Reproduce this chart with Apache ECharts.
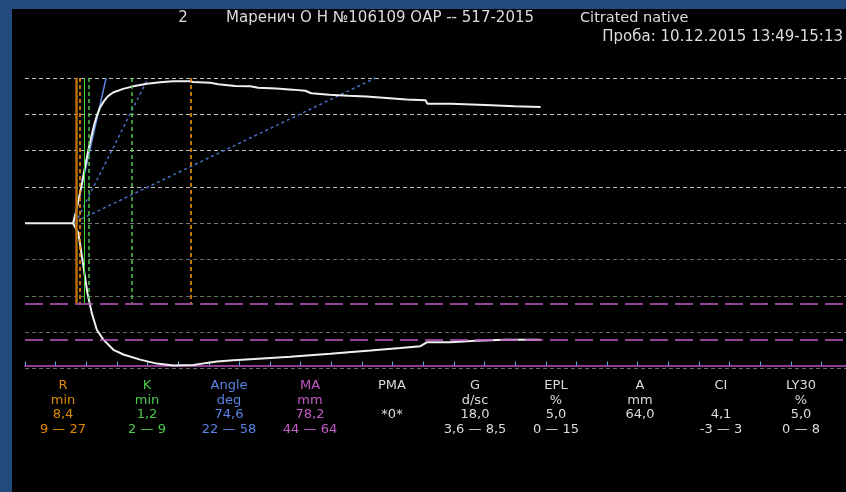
<!DOCTYPE html>
<html>
<head>
<meta charset="utf-8">
<script src="https://cdn.jsdelivr.net/npm/echarts@6/dist/echarts.min.js"></script>
<style>
  html, body { margin: 0; padding: 0; background: #000; }
  #chart { width: 846px; height: 492px; }
</style>
</head>
<body>
<div id="chart"></div>
<script>
// Thromboelastogram: time in minutes, amplitude in mm (half-amplitude, centred on 0)
const X_MAX = 134;          // visible time window, min
const Y_LIMIT = 40;         // half-amplitude scale, mm

// Upper branch of the trace [min, mm]
const traceUpper = [
  [0, 0], [7.84, 0], [8.33, 3.2], [8.82, 7.1], [9.31, 11.2], [9.80, 15.6], [10.29, 19.7],
  [10.78, 23.5], [11.27, 27.0], [11.76, 29.8], [12.25, 31.9], [12.91, 33.7], [13.56, 35.0],
  [14.38, 36.0], [16.01, 37.0], [17.65, 37.7], [19.93, 38.4], [22.06, 38.8], [24.18, 39.1],
  [26.96, 39.1], [27.45, 38.9], [30.23, 38.7], [31.54, 38.3], [34.31, 37.8], [36.76, 37.7],
  [38.07, 37.3], [41.01, 37.1], [43.63, 36.8], [45.75, 36.5], [46.73, 35.8], [49.67, 35.4],
  [52.78, 35.1], [55.72, 34.9], [58.99, 34.5], [62.25, 34.1], [65.36, 33.9], [65.69, 32.9],
  [69.44, 32.9], [75.16, 32.6], [79.90, 32.2], [84.15, 32.0]
];

// Lower branch of the trace [min, mm]
const traceLower = [
  [7.84, 0], [8.71, -2.6], [9.53, -11.8], [10.18, -19.1], [10.90, -24.7], [11.72, -29.3],
  [12.79, -32.0], [14.43, -34.8], [16.06, -36.1], [18.79, -37.5], [21.52, -38.6],
  [24.23, -39.1], [27.50, -39.0], [29.69, -38.4], [31.32, -38.0], [34.04, -37.7],
  [36.76, -37.4], [43.30, -36.7], [49.84, -35.9], [56.37, -35.0], [61.27, -34.3],
  [64.54, -33.8], [65.64, -32.7], [69.44, -32.7], [73.53, -32.3], [78.43, -32.0], [84.15, -32.0]
];

// Angle tangent lines [min, mm]
const angleTangent = [[7.9, 0], [13.24, 40]];
const angleGuide1 = [[8.2, 0], [20.1, 40]];
const angleGuide2 = [[8.3, 0.5], [57.2, 40]];

// Measured parameters
const R_VALUE = 8.4;
const K_VALUE = 1.2;
const MA_VALUE = 78.2;
const R_RANGE = [9, 27];
const K_RANGE = [2, 9];
const MA_RANGE = [44, 64];

// Results table
const paramNames  = ['R', 'K', 'Angle', 'MA', 'PMA', 'G', 'EPL', 'A', 'CI', 'LY30'];
const paramUnits  = ['min', 'min', 'deg', 'mm', '', 'd/sc', '%', 'mm', '', '%'];
const paramValues = ['8,4', '1,2', '74,6', '78,2', '*0*', '18,0', '5,0', '64,0', '4,1', '5,0'];
const paramRanges = ['9 — 27', '2 — 9', '22 — 58', '44 — 64', '', '3,6 — 8,5', '0 — 15', '', '-3 — 3', '0 — 8'];

// Header texts
const headerIndex = '2';
const headerPatient = 'Маренич О Н №106109 ОАР -- 517-2015';
const headerSample = 'Citrated native';
const headerTime = 'Проба: 10.12.2015 13:49-15:13';

const COL_R = '#e08a00';
const COL_K = '#4cc84c';
const COL_ANGLE = '#5a84e4';
const COL_MA = '#c45ac8';
const COL_TEXT = '#dcdcdc';
const paramColors = [COL_R, COL_K, COL_ANGLE, COL_MA, COL_TEXT, COL_TEXT, COL_TEXT, COL_TEXT, COL_TEXT, COL_TEXT];

const FONT = 'DejaVu Sans';
const colX = [63, 147, 229, 310, 392, 475, 556, 640, 721, 801];
const rowY = [386, 400.5, 415, 430];

const headerFont = '15px "' + FONT + '"';
const graphics = [
  { type: 'rect', shape: { x: 0, y: 0, width: 846, height: 9 }, style: { fill: '#224a7c' } },
  { type: 'rect', shape: { x: 0, y: 0, width: 12, height: 492 }, style: { fill: '#224a7c' } },
  { type: 'text', x: 183, y: 18, style: { text: headerIndex, fill: COL_TEXT, font: headerFont, textAlign: 'center', textVerticalAlign: 'middle' } },
  { type: 'text', x: 226, y: 18, style: { text: headerPatient, fill: COL_TEXT, font: headerFont, textAlign: 'left', textVerticalAlign: 'middle' } },
  { type: 'text', x: 580, y: 18, style: { text: headerSample, fill: COL_TEXT, font: '14.5px "' + FONT + '"', textAlign: 'left', textVerticalAlign: 'middle' } },
  { type: 'text', x: 843, y: 37, style: { text: headerTime, fill: COL_TEXT, font: headerFont, textAlign: 'right', textVerticalAlign: 'middle' } }
];

paramNames.forEach(function (name, i) {
  const rows = [name, paramUnits[i], paramValues[i], paramRanges[i]];
  rows.forEach(function (t, r) {
    if (!t) return;
    graphics.push({
      type: 'text', x: colX[i], y: rowY[r],
      style: { text: t, fill: paramColors[i], font: '13px "' + FONT + '"', textAlign: 'center', textVerticalAlign: 'middle' }
    });
  });
});

// Vertical markers spanning from the top grid line down to the lower MA range line
function vLine(x, color, type, width) {
  return [
    { coord: [x, Y_LIMIT], lineStyle: { color: color, type: type, width: width } },
    { coord: [x, -MA_RANGE[0] / 2] }
  ];
}
// Horizontal full-width markers
function hLine(y, color, type, width) {
  return { yAxis: y, lineStyle: { color: color, type: type, width: width } };
}

const gridColors = ['#6a6a6a', '#6a6a6a', '#6a6a6a', '#6a6a6a', '#787878', '#bdbdbd', '#bdbdbd', '#bdbdbd', '#bdbdbd'];

const option = {
  backgroundColor: '#000000',
  animation: false,
  graphic: graphics,
  grid: { left: 25, right: 0, top: 78, bottom: 123.3 },
  xAxis: {
    type: 'value', min: 0, max: X_MAX, interval: 5,
    axisLine: { show: true, onZero: true, onZeroAxisIndex: 1, lineStyle: { color: '#8e3e92', width: 2 } },
    axisTick: { show: true, inside: true, length: 4, lineStyle: { color: '#5aaee6', width: 1 } },
    axisLabel: { show: false },
    splitLine: { show: false }
  },
  yAxis: [
    {
      type: 'value', min: -Y_LIMIT, max: Y_LIMIT, interval: 10,
      axisLine: { show: false }, axisTick: { show: false }, axisLabel: { show: false },
      splitLine: { show: true, lineStyle: { color: gridColors, type: [4, 3], width: 1 } }
    },
    {
      // carries the MA baseline that the time axis sits on
      type: 'value', min: -Y_LIMIT + MA_VALUE / 2, max: Y_LIMIT + MA_VALUE / 2, show: false
    }
  ],
  series: [
    {
      type: 'line', data: [], silent: true,
      markLine: {
        silent: true, symbol: 'none', label: { show: false },
        data: [
          hLine(-MA_RANGE[0] / 2, COL_MA, [18, 7], 1.5),
          hLine(-MA_RANGE[1] / 2, COL_MA, [18, 7], 1.5),
          vLine(R_RANGE[0], '#ff9c00', [4, 3], 1.5),
          vLine(R_RANGE[1], '#ff9c00', [4, 3], 1.5),
          vLine(R_VALUE + K_VALUE, '#3ee03e', 'solid', 1),
          vLine(R_VALUE + K_RANGE[0], COL_K, [4, 3], 1.5),
          vLine(R_VALUE + K_RANGE[1], COL_K, [4, 3], 1.5),
          vLine(R_VALUE, '#b86c00', 'solid', 2.5)
        ]
      }
    },
    { type: 'line', data: angleGuide2, symbol: 'none', silent: true, lineStyle: { color: '#4a6ec4', width: 1.5, type: [3, 3] }, z: 3 },
    { type: 'line', data: angleGuide1, symbol: 'none', silent: true, lineStyle: { color: '#4a6ec4', width: 1.5, type: [3, 3] }, z: 3 },
    { type: 'line', data: angleTangent, symbol: 'none', silent: true, lineStyle: { color: COL_ANGLE, width: 1.5 }, z: 3 },
    { type: 'line', data: traceUpper, symbol: 'none', silent: true, lineStyle: { color: '#f0f0f0', width: 2 }, z: 4 },
    { type: 'line', data: traceLower, symbol: 'none', silent: true, lineStyle: { color: '#f0f0f0', width: 2 }, z: 4 }
  ]
};

const chart = echarts.init(document.getElementById('chart'), null, { renderer: 'canvas' });
chart.setOption(option);
</script>
</body>
</html>
